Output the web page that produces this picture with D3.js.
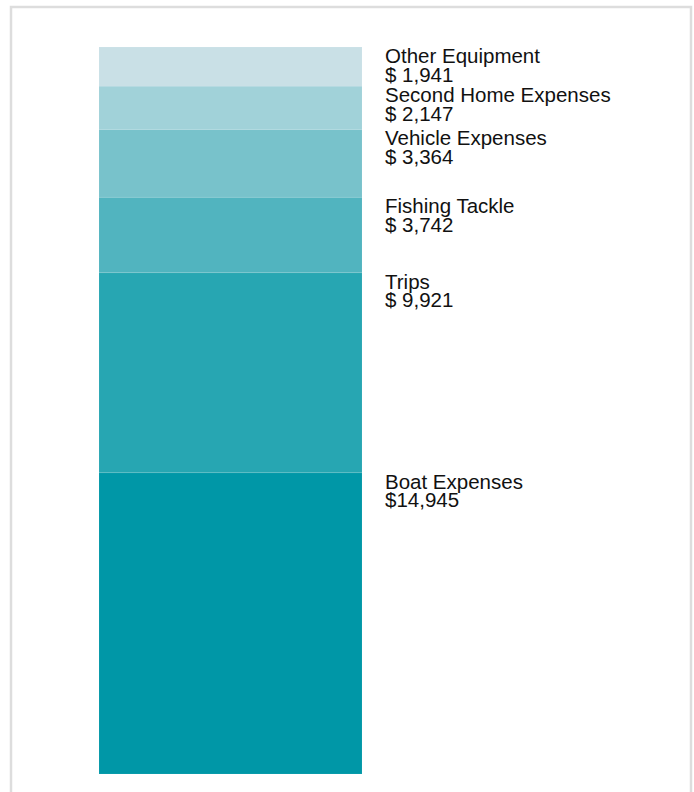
<!DOCTYPE html>
<html>
<head>
<meta charset="utf-8">
<script src="https://cdn.jsdelivr.net/npm/d3@7"></script>
<style>
  html, body { margin: 0; padding: 0; background: #fff; }
  svg { display: block; }
  text { font-family: "Liberation Sans", Arial, sans-serif; }
</style>
</head>
<body>
<svg id="chart" width="694" height="792"></svg>
<script>
// Data (bottom to top)
const categories = ["Boat Expenses", "Trips", "Fishing Tackle", "Vehicle Expenses", "Second Home Expenses", "Other Equipment"];
const values = [14945, 9921, 3742, 3364, 2147, 1941];
const colors = ["#0097a7", "#27a6b2", "#51b4bf", "#78c2cb", "#a1d2d9", "#c9e0e6"];

const svg = d3.select("#chart");

// frame
svg.append("rect")
  .attr("x", 11).attr("y", 7)
  .attr("width", 680).attr("height", 820)
  .attr("fill", "#fff")
  .attr("stroke", "#dddddd")
  .attr("stroke-width", 2.5);

const total = d3.sum(values);
const y = d3.scaleLinear().domain([0, total]).range([774, 47]);
const x = d3.scaleBand().domain(["Spending"]).range([99, 362]).padding(0);

let cum = 0;
const segs = categories.map((c, i) => {
  const s = { name: c, value: values[i], color: colors[i], y0: cum, y1: cum + values[i] };
  cum += values[i];
  return s;
});

const fmt = d3.format(" =$7,d");

svg.append("g").selectAll("rect")
  .data(segs)
  .join("rect")
  .attr("x", x("Spending"))
  .attr("width", x.bandwidth())
  .attr("y", d => y(d.y1))
  .attr("height", d => y(d.y0) - y(d.y1))
  .attr("fill", d => d.color)
  .attr("stroke", "#ffffff")
  .attr("stroke-opacity", 0.08)
  .attr("stroke-width", 1);

const lx = x("Spending") + x.bandwidth() + 23;
const labels = svg.append("g").selectAll("text")
  .data(segs)
  .join("text")
  .attr("x", lx)
  .attr("y", d => y(d.y1) + 16)
  .attr("font-size", "20.5px")
  .attr("fill", "#111");

labels.append("tspan")
  .attr("x", lx)
  .text(d => d.name);
labels.append("tspan")
  .attr("x", lx)
  .attr("dy", 18.5)
  .style("white-space", "pre")
  .text(d => fmt(d.value));
</script>
</body>
</html>
